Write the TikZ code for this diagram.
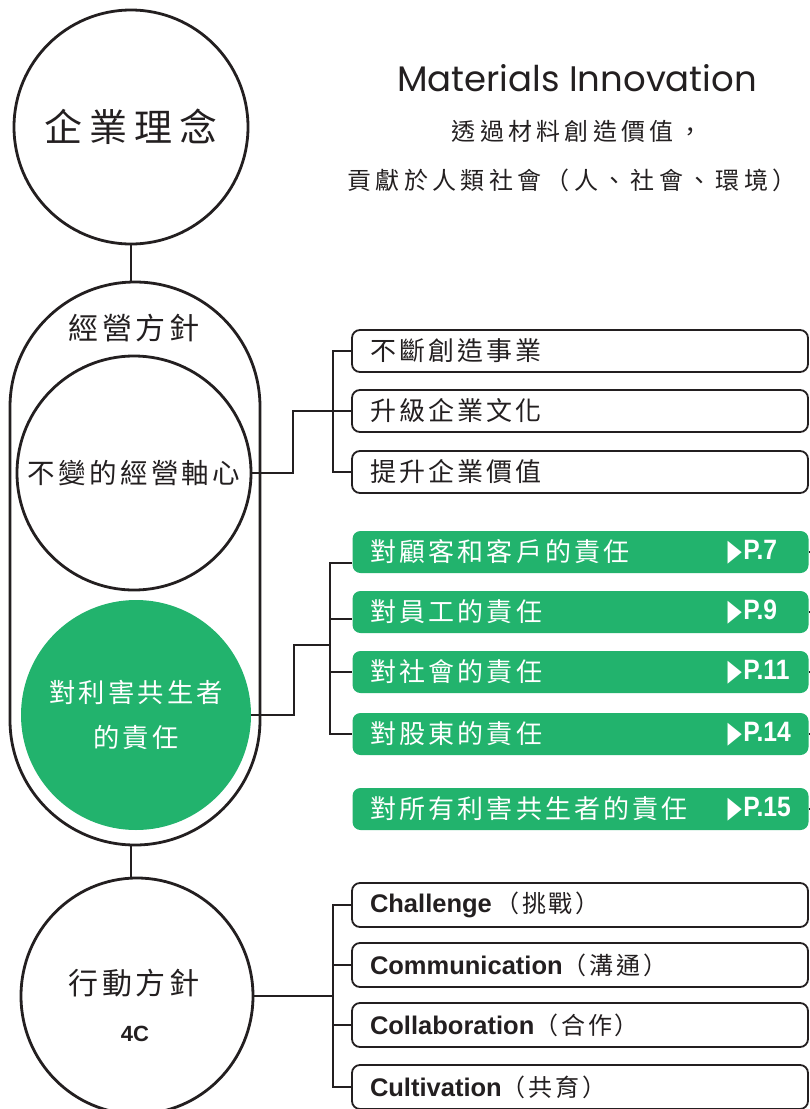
\documentclass[tikz,border=0pt]{standalone}
\usepackage{fontspec}
\usetikzlibrary{shapes.geometric,calc}
\setmainfont{Liberation Sans}
\newfontfamily\cjk{Noto Sans CJK TC}[LetterSpace=12]
\newfontfamily\cjkw{Noto Sans CJK TC}[LetterSpace=18]
\newfontfamily\ttl{Poppins}
\newfontfamily\symf{DejaVu Sans}
\definecolor{ink}{HTML}{231F20}
\definecolor{grn}{HTML}{22B36D}
\newcommand\fsz[1]{\fontsize{#1}{#1}\selectfont}
\begin{document}
\begin{tikzpicture}[x=1pt,y=-1pt,
  circ/.style={circle, draw=ink, line width=2.8pt, minimum size=#1, inner sep=0pt, text=ink},
  conn/.style={draw=ink, line width=2.2pt},
  thinconn/.style={draw=ink, line width=1.8pt},
  boxbase/.style={rounded corners=8pt, minimum width=456pt, minimum height=42pt,
     text width=420pt, align=left, inner xsep=18pt, inner ysep=0pt},
  wbox/.style={boxbase, draw=ink, line width=1.8pt, text=ink, font=\cjk\fsz{26}},
  gbox/.style={boxbase, fill=grn, text=white, font=\cjk\fsz{26}},
  bbox/.style={boxbase, draw=ink, line width=1.8pt, minimum height=44pt, text=ink},
  pref/.style={anchor=west, text=white, inner sep=0pt, font=\bfseries\fsz{28}},
]
\useasboundingbox (0,0) rectangle (810,1109);

% title
\node[text=ink] (title) at (577,78) {\resizebox{360pt}{!}{\ttl Materials Innovation}};
\node[text=ink, font=\cjkw\fsz{24}] (sub1) at (577,131) {透過材料創造價值，};
\node[text=ink, font=\cjkw\fsz{24}] (sub2) at (572,180) {貢獻於人類社會（人、社會、環境）};

% left column
\node[circ=234pt, font=\cjkw\fsz{38}] (top) at (131,127) {企業理念};
\node[draw=ink, line width=2.8pt, rounded corners=125pt, minimum width=250pt, minimum height=563pt, inner sep=0pt] (pill) at (135,563.5) {};
\node[text=ink, font=\cjk\fsz{30}] (pilllbl) at (134,328) {經營方針};
\node[circ=234pt, font=\cjk\fsz{27.5}] (core) at (134,473) {不變的經營軸心};
\node[circle, fill=grn, minimum size=230pt, inner sep=0pt, text=white, align=center,
      font=\cjk\fsz{26.3}, execute at begin node={\setlength{\baselineskip}{45pt}}] (stake) at (136,715) {對利害共生者\\的責任};
\node[ellipse, draw=ink, line width=2.8pt, minimum width=232pt, minimum height=236pt, inner sep=0pt,
      text=ink, align=center] (act) at (137,996) {};
\node[text=ink, font=\cjk\fsz{30}] (actlbl) at (134,983) {行動方針};
\node[text=ink, font=\bfseries\fsz{22}] (actc) at (135,1034) {4C};

\draw[conn] (top.south) -- (top.south |- pill.north);
\draw[conn] (pill.south -| top.south) -- (act.north -| top.south);

% group 1
\node[wbox] (b1) at (580,351) {不斷創造事業};
\node[wbox] (b2) at (580,411) {升級企業文化};
\node[wbox] (b3) at (580,472) {提升企業價值};
\coordinate (j1) at (293,0);
\coordinate (k1) at (333,0);
\draw[conn] (core.east) -- (core.east -| j1) |- (b2.west -| k1);
\draw[conn] (b1.west) -| (k1 |- b3.west) -- (b3.west);
\draw[conn] (k1 |- b2.west) -- (b2.west);

% green group
\node[gbox] (g1) at (580.5,552) {對顧客和客戶的責任};
\node[gbox] (g2) at (580.5,612) {對員工的責任};
\node[gbox] (g3) at (580.5,672) {對社會的責任};
\node[gbox] (g4) at (580.5,734) {對股東的責任};
\node[gbox] (g5) at (580.5,809) {對所有利害共生者的責任};
\foreach \g/\p in {g1/7,g2/9,g3/11,g4/14,g5/15}{
  \node[pref] (\g p) at ($(\g.west)+(375,0)$) {\raisebox{-1pt}{\scalebox{0.62}[1]{\symf\fsz{30}▶}}\hspace{1.5pt}\scalebox{0.88}[1]{P.\p}};
  \draw[ink, line width=1.5pt] (\g.east) -- ++(4,0);
}
\coordinate (j2) at (294,645);
\coordinate (k2) at (330,0);
\draw[thinconn] (stake.east) -- (stake.east -| j2) |- (k2 |- j2);
\draw[thinconn] ($(g1.west)+(0,11)$) -| (k2 |- g4.west) -- (g4.west);
\draw[thinconn] (k2 |- 0,619) -- (g2.west |- 0,619);
\draw[thinconn] (k2 |- g3.west) -- (g3.west);

% bottom group
\node[bbox] (c1) at (580,905) {{\bfseries\fsz{25.5}Challenge} {\cjk\fsz{24}（挑戰）}};
\node[bbox] (c2) at (580,965) {{\bfseries\fsz{25.5}Communication}{\cjk\fsz{24}（溝通）}};
\node[bbox] (c3) at (580,1025) {{\bfseries\fsz{25.5}Collaboration}{\cjk\fsz{24}（合作）}};
\node[bbox] (c4) at (580,1087) {{\bfseries\fsz{25.5}Cultivation}{\cjk\fsz{24}（共育）}};
\coordinate (k3) at (333,0);
\draw[conn] (act.east) -- (act.east -| k3);
\draw[conn] (c1.west) -| (k3 |- c4.west) -- (c4.west);
\draw[conn] (k3 |- c2.west) -- (c2.west);
\draw[conn] (k3 |- c3.west) -- (c3.west);
\end{tikzpicture}
\end{document}
